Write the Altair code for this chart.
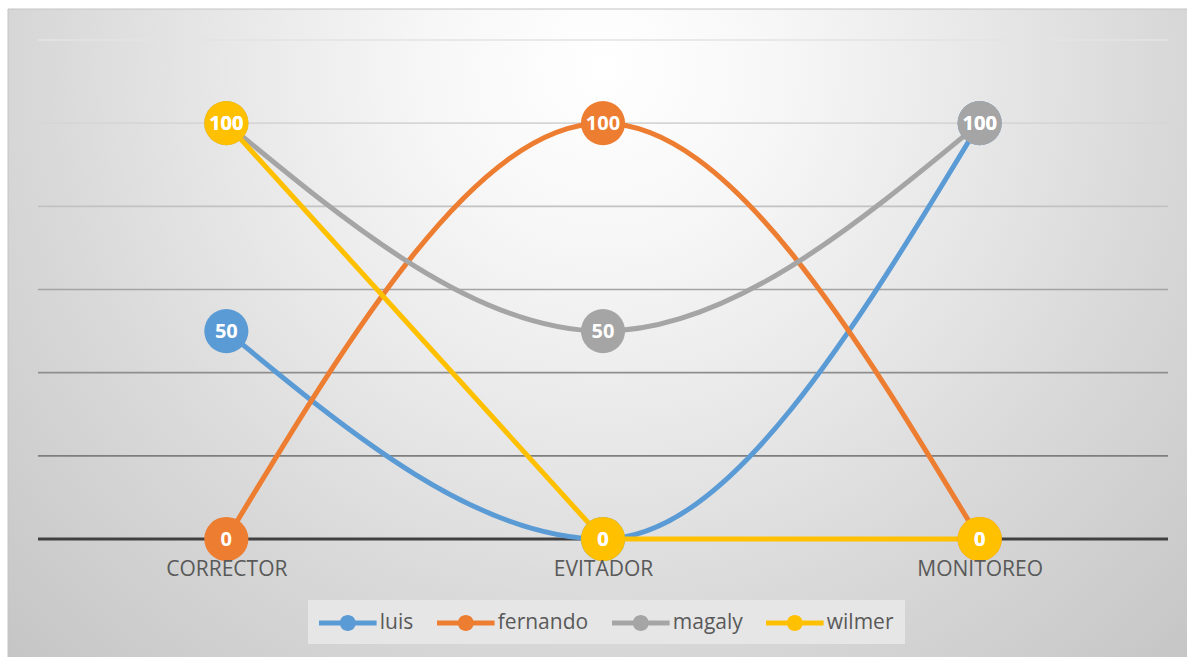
import altair as alt
import pandas as pd

# Category order along the x axis
categories = ["CORRECTOR", "EVITADOR", "MONITOREO"]

# Series values, one list per person
series_names = ["luis", "fernando", "magaly", "wilmer"]
luis = [50, 0, 100]
fernando = [0, 100, 0]
magaly = [100, 50, 100]
wilmer = [100, 0, 0]

# Horizontal reference lines (value axis, labels hidden)
grid_values = [0, 20, 40, 60, 80, 100, 120]

palette = ["#5B9BD5", "#ED7D31", "#A5A5A5", "#FFC000"]

rows = []
for name, vals in zip(series_names, [luis, fernando, magaly, wilmer]):
    for cat, v in zip(categories, vals):
        rows.append({"serie": name, "categoria": cat, "valor": v})
df = pd.DataFrame(rows)
grid_df = pd.DataFrame({"v": grid_values})
bg_df = pd.DataFrame({"k": [0]})

W, H = 1130, 499
FONT = "Open Sans"

y_scale = alt.Scale(domain=[0, 120], nice=False, zero=True)
color_scale = alt.Scale(domain=series_names, range=palette)

x_enc = alt.X(
    "categoria:N",
    sort=categories,
    scale=alt.Scale(type="point", padding=0.5),
    axis=alt.Axis(
        title=None,
        domain=False,
        ticks=False,
        grid=False,
        labelAngle=0,
        labelPadding=19,
        labelFontSize=21,
        labelFont=FONT,
        labelColor="#595959",
        zindex=1,
    ),
)
y_enc = alt.Y("valor:Q", scale=y_scale, axis=None)

# Legend key: a short thick line with a dot in the middle; the path is wider
# than the unit box so the entry stays short while the key stays long
legend_symbol = (
    "M-2.4,-0.208L2.4,-0.208L2.4,0.208L-2.4,0.208Z"
    "M-0.667,0A0.667,0.667 0 1,1 0.667,0A0.667,0.667 0 1,1 -0.667,0Z"
)

legend = alt.Legend(
    title=None,
    orient="none",
    direction="horizontal",
    legendX=270,
    legendY=560,
    symbolType=legend_symbol,
    symbolSize=24 * 24,
    symbolOffset=16.8,
    symbolStrokeWidth=0,
    labelFontSize=21,
    labelFont=FONT,
    labelColor="#595959",
    labelOffset=20,
    columnPadding=23,
    padding=11,
    fillColor="#e6e6e6",
    zindex=2,
)

# Chart-area background with a soft radial shading and thin frame
background = alt.Chart(bg_df).mark_rect(
    fill={
        "gradient": "radial",
        "x1": 0.5, "y1": 0.27, "r1": 0,
        "x2": 0.5, "y2": 0.27, "r2": 0.72,
        "stops": [
            {"offset": 0.0, "color": "#ffffff"},
            {"offset": 0.2, "color": "#f7f7f7"},
            {"offset": 0.42, "color": "#e9e9e9"},
            {"offset": 0.65, "color": "#d9d9d9"},
            {"offset": 1.0, "color": "#c4c4c4"},
        ],
    },
    stroke="#c4c4c4",
    strokeWidth=1,
).encode(
    x=alt.value(-30),
    x2=alt.value(1160),
    y=alt.value(-31),
    y2=alt.value(630),
)

# Gridlines: lighter near the top, darker toward the baseline
grid = alt.Chart(grid_df).mark_rule().encode(
    y=alt.Y("v:Q", scale=y_scale, axis=None),
    stroke={
        "condition": [
            {"test": "datum.v == 0", "value": "#404040"},
            {"test": "datum.v >= 120", "value": "#e3e3e3"},
            {"test": "datum.v >= 100", "value": "#d6d6d6"},
            {"test": "datum.v >= 80", "value": "#c2c2c2"},
            {"test": "datum.v >= 60", "value": "#a4a4a4"},
            {"test": "datum.v >= 40", "value": "#8e8e8e"},
        ],
        "value": "#7e7e7e",
    },
    strokeWidth={
        "condition": [{"test": "datum.v == 0", "value": 3}],
        "value": 1.6,
    },
)

base = alt.Chart(df)
stroke_enc = alt.Stroke("serie:N", sort=series_names, scale=color_scale, legend=legend)

# Smoothed curves; the last series runs straight
curves = base.transform_filter(alt.datum.serie != "wilmer").mark_line(
    interpolate="monotone", strokeWidth=5
).encode(x=x_enc, y=y_enc, stroke=stroke_enc, detail="serie:N")

straight = base.transform_filter(alt.datum.serie == "wilmer").mark_line(
    interpolate="linear", strokeWidth=5
).encode(x=x_enc, y=y_enc, stroke=stroke_enc)

points = base.mark_point(filled=True, size=1950, opacity=1).encode(
    x=x_enc, y=y_enc,
    color=alt.Color("serie:N", sort=series_names, scale=color_scale, legend=legend),
)

labels = base.mark_text(
    color="white", fontSize=20, fontWeight="bold", font=FONT,
    baseline="middle", align="center", dy=1,
).encode(x=x_enc, y=y_enc, text="valor:Q")

chart = alt.layer(background, grid, curves, straight, points, labels).properties(
    width=W,
    height=H,
    padding={"left": 38, "top": 40, "right": 19, "bottom": 118},
    autosize=alt.AutoSizeParams(type="none"),
    background="white",
).configure_view(stroke=None)

chart.save("out.html", embed_options={"renderer": "svg", "actions": False})
